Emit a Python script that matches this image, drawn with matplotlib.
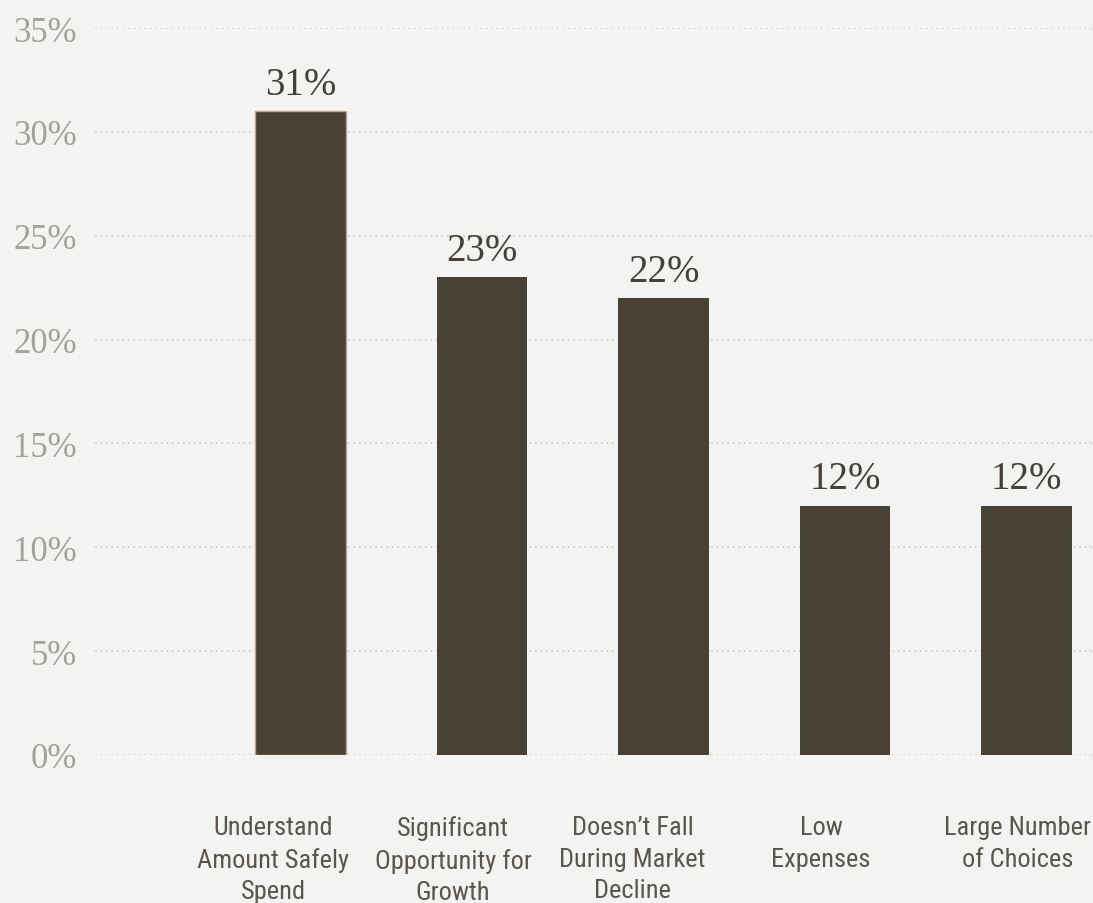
import numpy as np
import matplotlib.pyplot as plt
from matplotlib import font_manager
from matplotlib.transforms import offset_copy

# survey shares per reason
categories = [
    "Understand\nAmount Safely\nSpend",
    "Significant\nOpportunity for\nGrowth",
    "Doesn\u2019t Fall\nDuring Market\nDecline",
    "Low\nExpenses",
    "Large Number\nof Choices",
]
values = [31, 23, 22, 12, 12]
y_ticks = [0, 5, 10, 15, 20, 25, 30, 35]

BG = "#f3f3f1"
BAR = "#474235"
DARK = "#45403a"
GREY = "#a4a09a"
LABEL = "#5a564f"

# pick a narrow sans for category labels if one is available
installed = {f.name for f in font_manager.fontManager.ttflist}
narrow = None
for name in ["Roboto Condensed", "Liberation Sans Narrow", "DejaVu Sans Condensed"]:
    if name in installed:
        narrow = name
        break
if narrow is None:
    narrow = "DejaVu Sans"
serif = "Liberation Serif"

W, H = 1093, 904
fig = plt.figure(figsize=(W / 100, H / 100), dpi=100)
fig.patch.set_facecolor(BG)
ax = fig.add_axes([95 / W, 1 - 756 / H, 1 - 95 / W, (756 - 29) / H])
ax.set_facecolor(BG)

x = np.arange(len(values))
bars = ax.bar(x, values, width=0.5, color=BAR, zorder=3)
bars[0].set_edgecolor("#b9a594")
bars[0].set_linewidth(1.0)

for xi, v in zip(x, values):
    ax.annotate(f"{v}%", (xi, v), xytext=(0, 6), textcoords="offset points",
                ha="center", va="bottom", fontsize=28, color=DARK,
                family=serif)

# x range so the first bar sits in from the axis start
ax.set_xlim(-1.132, 4.366)
ax.set_ylim(0, 35)

ax.set_yticks(y_ticks)
ax.set_yticklabels([f"{t}%" for t in y_ticks], family=serif, fontsize=25,
                   color=GREY)
ax.tick_params(axis="y", length=0, pad=13)
ax.yaxis.grid(True, color="#cbc6bf", linestyle=(0, (1, 2.6)), linewidth=1.1,
              zorder=0)
ax.set_axisbelow(True)
for s in ax.spines.values():
    s.set_visible(False)

# category labels under the bars, each nudged left by a few pixels
ax.set_xticks([])
label_shift_px = [-27, -29, -31, -24, -9]
base = ax.get_xaxis_transform()
for xi, lab, dx in zip(x, categories, label_shift_px):
    tr = offset_copy(base, fig=fig, x=dx, y=0, units="dots")
    ax.text(xi, -0.083, lab, transform=tr, ha="center", va="top",
            fontsize=19, color=LABEL, family=narrow, linespacing=1.38,
            clip_on=False)

fig.savefig("out.png", dpi=100, facecolor=BG)
